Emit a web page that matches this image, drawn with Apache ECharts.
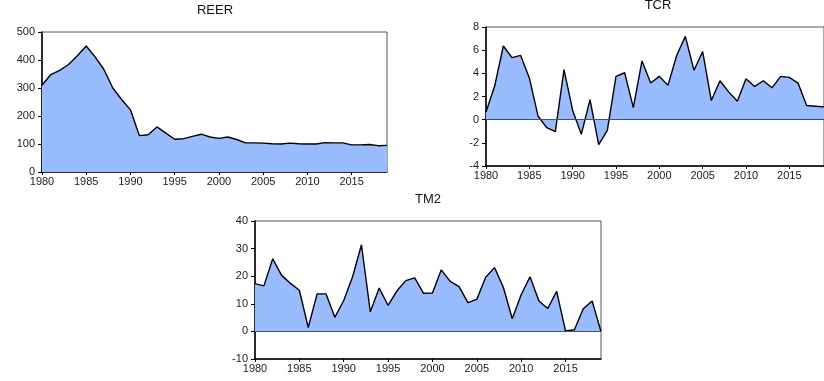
<!DOCTYPE html>
<html>
<head>
<meta charset="utf-8">
<script src="https://cdn.jsdelivr.net/npm/echarts@6/dist/echarts.min.js"></script>
<style>
html,body{margin:0;padding:0;background:#fff;}
#c{width:824px;height:381px;}
</style>
</head>
<body>
<div id="c"></div>
<script>
const years = [];
for (let y = 1980; y <= 2019; y++) years.push(String(y));

const reer = [310, 348, 363, 384, 415, 450, 411, 366, 300, 259, 222, 130, 133, 161, 139, 117, 119, 127, 135, 125, 120, 125, 116, 104, 104, 103, 101, 100, 103, 101, 100, 100, 105, 104, 104, 97, 97, 98, 94, 95];
const tcr = [0.66, 2.9, 6.36, 5.35, 5.55, 3.6, 0.32, -0.69, -1.04, 4.32, 0.8, -1.27, 1.73, -2.16, -0.92, 3.74, 4.05, 1.04, 5.07, 3.16, 3.74, 2.96, 5.54, 7.19, 4.26, 5.88, 1.65, 3.36, 2.4, 1.59, 3.54, 2.87, 3.36, 2.75, 3.74, 3.65, 3.16, 1.22, 1.16, 1.1];
const tm2 = [17.3, 16.5, 26.3, 20.3, 17.4, 14.9, 1.4, 13.6, 13.6, 5.1, 11.2, 19.8, 31.4, 7.1, 15.7, 9.4, 14.7, 18.4, 19.4, 13.8, 13.9, 22.3, 18.1, 16.2, 10.4, 11.6, 19.6, 23.1, 15.9, 4.6, 13.3, 19.8, 11.0, 8.3, 14.5, 0.2, 0.6, 8.2, 11.0, -0.1];

const titles = ['REER', 'TCR', 'TM2'];
const yMin = [0, -4, -10];
const yMax = [500, 8, 40];
const yStep = [100, 2, 10];

const FONT = 'Arial, "Liberation Sans", sans-serif';
const fill = '#99bbff';

const grids = [
  {left: 42, top: 32, right: 437, bottom: 209},
  {left: 486, top: 27, right: -6, bottom: 215},
  {left: 255, top: 221, right: 223, bottom: 22}
];
const titlePos = [
  {left: 215, top: 4},
  {left: 658, top: -1},
  {left: 428, top: 193}
];
const seriesData = [reer, tcr, tm2];

const option = {
  animation: false,
  backgroundColor: '#fff',
  title: titles.map((t, i) => ({
    text: t, left: titlePos[i].left, top: titlePos[i].top, textAlign: 'center', padding: 0,
    textStyle: {fontFamily: FONT, fontSize: 13, fontWeight: 'normal', color: '#111'}
  })),
  grid: grids.map(g => Object.assign({show: true, borderColor: '#555', borderWidth: 1, backgroundColor: 'transparent'}, g)),
  xAxis: grids.map((g, i) => ({
    type: 'category', gridIndex: i, data: years, boundaryGap: false,
    axisLine: {onZero: false, lineStyle: {color: '#000', width: 1.5}},
    axisTick: {show: true, interval: 4, length: 3, inside: false, lineStyle: {color: '#000'}},
    axisLabel: {interval: 4, margin: 4, fontFamily: FONT, fontSize: 11, color: '#222'},
    splitLine: {show: false}
  })),
  yAxis: grids.map((g, i) => ({
    type: 'value', gridIndex: i, min: yMin[i], max: yMax[i], interval: yStep[i],
    axisLine: {show: true, lineStyle: {color: '#000', width: 1.5}},
    axisTick: {show: true, length: 4, lineStyle: {color: '#000'}},
    axisLabel: {margin: 7, fontFamily: FONT, fontSize: 11, color: '#222'},
    splitLine: {show: false}
  })),
  series: seriesData.map((d, i) => {
    const s = {
      type: 'line', xAxisIndex: i, yAxisIndex: i, data: d,
      symbol: 'none', smooth: false,
      lineStyle: {color: '#000', width: 1.4},
      areaStyle: {color: fill, opacity: 1, origin: 0},
      z: 2
    };
    if (i > 0) {
      s.markLine = {
        silent: true, symbol: 'none', label: {show: false},
        lineStyle: {color: '#3d4f7a', width: 1, type: 'solid'},
        data: [{yAxis: 0}], z: 3
      };
    }
    return s;
  })
};

const chart = echarts.init(document.getElementById('c'), null, {renderer: 'canvas'});
chart.setOption(option);
</script>
</body>
</html>
